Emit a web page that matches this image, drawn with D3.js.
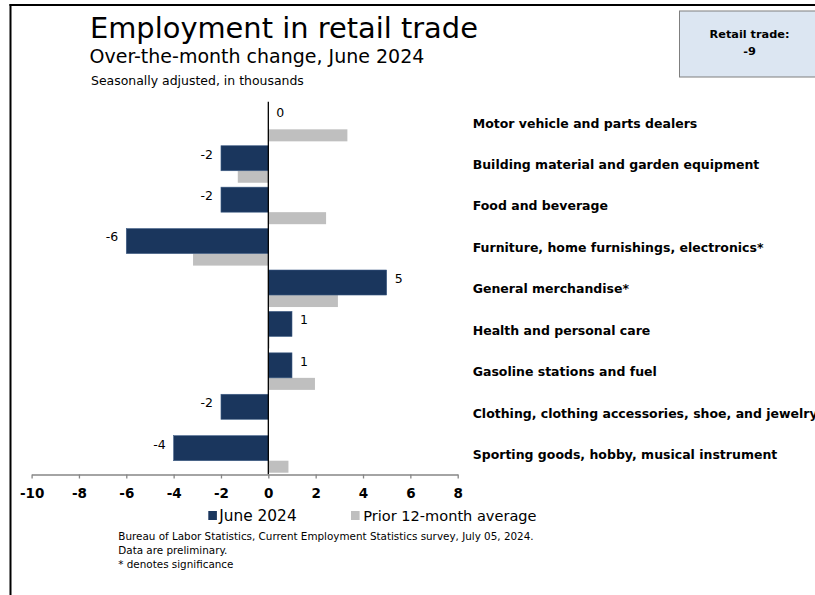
<!DOCTYPE html>
<html>
<head>
<meta charset="utf-8">
<script src="https://cdn.jsdelivr.net/npm/d3@7"></script>
<style>
  html, body { margin: 0; padding: 0; background: #fff; }
  svg { display: block; }
  text { font-family: "DejaVu Sans", Verdana, sans-serif; }
</style>
</head>
<body>
<svg id="chart" width="815" height="595"></svg>
<script>
// ---- data ----
const categories = [
  "Motor vehicle and parts dealers",
  "Building material and garden equipment",
  "Food and beverage",
  "Furniture, home furnishings, electronics*",
  "General merchandise*",
  "Health and personal care",
  "Gasoline stations and fuel",
  "Clothing, clothing accessories, shoe, and jewelry",
  "Sporting goods, hobby, musical instrument"
];
const june2024 = [0, -2, -2, -6, 5, 1, 1, -2, -4];
const prior12Avg = [3.34, -1.29, 2.44, -3.18, 2.94, 0.05, 1.97, 0, 0.85];
const xTicks = [-10, -8, -6, -4, -2, 0, 2, 4, 6, 8];
const seriesNames = ["June 2024", "Prior 12-month average"];
const titleText = "Employment in retail trade";
const subtitleText = "Over-the-month change, June 2024";
const unitText = "Seasonally adjusted, in thousands";
const totalLabel = "Retail trade:";
const totalValue = -9;
const footnotes = [
  "Bureau of Labor Statistics, Current Employment Statistics survey, July 05, 2024.",
  "Data are preliminary.",
  "* denotes significance"
];

// ---- styles ----
const NAVY = "#1a365d";
const GRAY = "#bfbfbf";
const fmt = v => String(Math.round(v)); // plain hyphen-minus like the reference

const svg = d3.select("#chart");

function fit(sel, w) {
  const n = sel.node();
  const cur = n.getComputedTextLength();
  const fs = parseFloat(sel.attr("font-size"));
  const nf = fs * w / cur;
  sel.attr("font-size", nf);
  return nf;
}

// frame
svg.append("line").attr("x1", 10.5).attr("x2", 10.5).attr("y1", 4).attr("y2", 595)
  .attr("stroke", "#000").attr("stroke-width", 2);
svg.append("line").attr("x1", 9.5).attr("x2", 815).attr("y1", 5).attr("y2", 5)
  .attr("stroke", "#000").attr("stroke-width", 2);

// titles
const t1 = svg.append("text").attr("x", 90).attr("y", 37.5).attr("font-size", 28).attr("fill", "#000").text(titleText);
fit(t1, 388);
const t2 = svg.append("text").attr("x", 89.5).attr("y", 63).attr("font-size", 18).attr("fill", "#000").text(subtitleText);
fit(t2, 335);
const t3 = svg.append("text").attr("x", 91).attr("y", 84.5).attr("font-size", 12).attr("fill", "#000").text(unitText);
fit(t3, 213);

// total box
const box = svg.append("g");
box.append("rect").attr("x", 679.5).attr("y", 11).attr("width", 142).attr("height", 66)
  .attr("fill", "#dce6f2").attr("stroke", "#7f7f7f").attr("stroke-width", 1);
box.append("text").attr("x", 749.5).attr("y", 34).attr("dy", "0.35em").attr("text-anchor", "middle")
  .attr("font-size", 11.3).attr("font-weight", "bold").attr("fill", "#000").text(totalLabel);
box.append("text").attr("x", 749.5).attr("y", 51).attr("dy", "0.35em").attr("text-anchor", "middle")
  .attr("font-size", 11.3).attr("font-weight", "bold").attr("fill", "#000").text(fmt(totalValue));

// scales
const x = d3.scaleLinear().domain([-10, 8]).range([31.6, 457.7]);
const y = d3.scaleBand().domain(categories).range([101.7, 474.5]).paddingInner(0).paddingOuter(0);
const bw = y.bandwidth();
const juneOff = bw * 0.063, juneH = bw * 0.604;
const grayOff = juneOff + juneH, grayH = bw * 0.29;

const rows = categories.map((c, i) => ({ c, june: june2024[i], prior: prior12Avg[i] }));

// gray bars
svg.append("g").selectAll("rect").data(rows).join("rect")
  .attr("x", d => x(Math.min(0, d.prior)))
  .attr("width", d => Math.abs(x(d.prior) - x(0)))
  .attr("y", d => y(d.c) + grayOff)
  .attr("height", grayH)
  .attr("fill", GRAY);

// june bars
svg.append("g").selectAll("rect").data(rows).join("rect")
  .attr("x", d => x(Math.min(0, d.june)))
  .attr("width", d => Math.abs(x(d.june) - x(0)))
  .attr("y", d => y(d.c) + juneOff)
  .attr("height", juneH)
  .attr("fill", NAVY)
  .attr("stroke", d => d.june === 0 ? "none" : "#3f5d85")
  .attr("stroke-width", 0.6);

// value labels
svg.append("g").selectAll("text").data(rows).join("text")
  .attr("x", d => d.june >= 0 ? x(d.june) + 8 : x(d.june) - 8)
  .attr("y", d => y(d.c) + juneOff + juneH / 2 - 4)
  .attr("dy", "0.35em")
  .attr("text-anchor", d => d.june >= 0 ? "start" : "end")
  .attr("font-size", 12.5)
  .attr("fill", "#000")
  .text(d => fmt(d.june));

// zero line
svg.append("line").attr("x1", x(0)).attr("x2", x(0)).attr("y1", 101.7).attr("y2", 474.5)
  .attr("stroke", "#000").attr("stroke-width", 1.3);

// x axis
const xAxis = svg.append("g").attr("transform", "translate(0,474.5)")
  .call(d3.axisBottom(x).tickValues(xTicks).tickSize(4).tickSizeOuter(0).tickPadding(10).tickFormat(fmt));
xAxis.select(".domain").attr("stroke", "#868686").attr("stroke-width", 1.3);
xAxis.selectAll(".tick line").attr("stroke", "#868686").attr("stroke-width", 1.3);
xAxis.selectAll(".tick text").attr("font-family", "DejaVu Sans, Verdana, sans-serif")
  .attr("font-size", 13.5).attr("font-weight", "bold").attr("fill", "#000");

// category labels
const catG = svg.append("g");
const catText = catG.selectAll("text").data(rows).join("text")
  .attr("x", 472.7)
  .attr("y", d => y(d.c) + bw / 2 + 0.8)
  .attr("dy", "0.35em")
  .attr("font-size", 12)
  .attr("font-weight", "bold")
  .attr("fill", "#000")
  .text(d => d.c);
const catSize = fit(d3.select(catText.nodes()[0]), 224.7);
catText.attr("font-size", catSize);

// legend
const legend = svg.append("g");
const legItems = [
  { name: seriesNames[0], color: NAVY, sx: 208.3, tx: 219.3, w: 77.4 },
  { name: seriesNames[1], color: GRAY, sx: 351, tx: 363.3, w: 173.4 }
];
legItems.forEach(it => {
  legend.append("rect").attr("x", it.sx).attr("y", 511).attr("width", 8.6).attr("height", 9).attr("fill", it.color);
  const t = legend.append("text").attr("x", it.tx).attr("y", 516).attr("dy", "0.35em")
    .attr("font-size", 15.5).attr("fill", "#000").text(it.name);
  fit(t, it.w);
});

// footnotes
const fn = svg.append("g");
const fnText = fn.selectAll("text").data(footnotes).join("text")
  .attr("x", 118.3)
  .attr("y", (d, i) => 536 + i * 14.2)
  .attr("dy", "0.35em")
  .attr("font-size", 11)
  .attr("fill", "#000")
  .text(d => d);
const fnSize = fit(d3.select(fnText.nodes()[0]), 416);
fnText.attr("font-size", fnSize);
</script>
</body>
</html>
